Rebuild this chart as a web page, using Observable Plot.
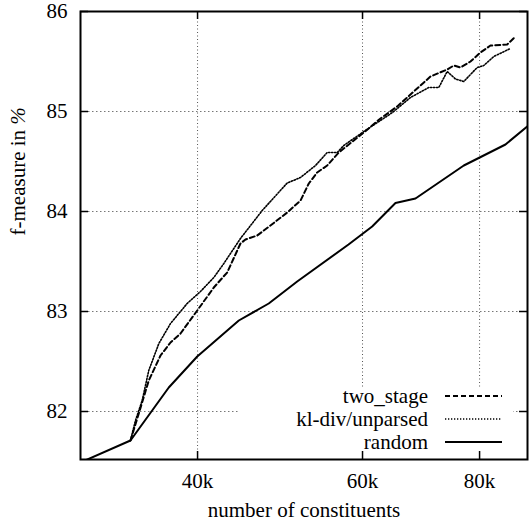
<!DOCTYPE html>
<html>
<head>
<meta charset="utf-8">
<script src="https://cdn.jsdelivr.net/npm/d3@7"></script>
<script src="https://cdn.jsdelivr.net/npm/@observablehq/plot@0.6"></script>
<style>
  html, body { margin: 0; padding: 0; background: #fff; }
  svg text { font-family: "Liberation Serif", "Times New Roman", Times, "DejaVu Serif", serif !important; }
</style>
</head>
<body>
<div id="chart"></div>
<script>
// ---- data ----
const seriesNames = ["two_stage", "kl-div/unparsed", "random"];

const twoStageX = [33920, 34620, 35480, 36520, 37430, 38360, 39970, 41630, 43020, 44450, 45000, 46320, 47850, 49860, 51520, 52580, 53670, 55010, 56600, 60190, 62710, 65340, 68060, 70910, 73880, 75090, 76330, 78230, 80180, 82170, 85610, 87160];
const twoStageY = [81.71, 81.98, 82.31, 82.56, 82.69, 82.78, 83.01, 83.24, 83.39, 83.68, 83.72, 83.76, 83.86, 83.99, 84.11, 84.28, 84.39, 84.46, 84.59, 84.79, 84.93, 85.05, 85.20, 85.35, 85.42, 85.46, 85.44, 85.50, 85.59, 85.66, 85.67, 85.74];

const klDivX = [33920, 34340, 34910, 35480, 36370, 37430, 38990, 40290, 41630, 42670, 44450, 46890, 49860, 51520, 53450, 55010, 56380, 57300, 60190, 64590, 67510, 70610, 72370, 73880, 75400, 76960, 78230, 79530, 80830, 82840, 86310];
const klDivY = [81.71, 81.91, 82.11, 82.41, 82.68, 82.88, 83.08, 83.20, 83.34, 83.48, 83.73, 84.01, 84.285, 84.34, 84.46, 84.59, 84.59, 84.66, 84.80, 84.99, 85.14, 85.24, 85.24, 85.40, 85.325, 85.30, 85.37, 85.44, 85.46, 85.55, 85.63];

const randomX = [30000, 33920, 37270, 39970, 44270, 47650, 51100, 57970, 61440, 65060, 68340, 76960, 85260, 89930];
const randomY = [81.49, 81.71, 82.24, 82.55, 82.91, 83.08, 83.30, 83.67, 83.85, 84.085, 84.13, 84.46, 84.67, 84.85];

const xDomain = [30000, 90000];
const yDomain = [81.52, 86];
const xTicks = [40000, 60000, 80000];
const xTickLabels = ["40k", "60k", "80k"];
const yTicks = [82, 83, 84, 85, 86];
const yGrid = [82, 83, 84, 85];
const xLabel = "number of constituents";
const yLabelMain = "f-measure in ";
const yLabelUnit = "%";

// ---- build tables ----
const toRows = (name, xs, ys) => xs.map((x, i) => ({series: name, x, y: ys[i]}));
const twoStage = toRows(seriesNames[0], twoStageX, twoStageY);
const klDiv = toRows(seriesNames[1], klDivX, klDivY);
const random = toRows(seriesNames[2], randomX, randomY);
const xTickRows = xTicks.map((v, i) => ({v, label: xTickLabels[i]}));

const styles = {
  "two_stage": {strokeWidth: 2, dash: "5,3"},
  "kl-div/unparsed": {strokeWidth: 1.6, dash: "1.3,1.7"},
  "random": {strokeWidth: 2, dash: null}
};

const W = 531, H = 523;

function legendBox(index, scales, values, dims) {
  const right = dims.width - dims.marginRight;
  const bottom = dims.height - dims.marginBottom;
  const g = d3.create("svg:g");
  g.append("rect")
    .attr("x", right - 288).attr("y", bottom - 72)
    .attr("width", 274).attr("height", 72)
    .attr("fill", "white");
  return g.node();
}

function legendKeys(index, scales, values, dims) {
  const right = dims.width - dims.marginRight;
  const bottom = dims.height - dims.marginBottom;
  const g = d3.create("svg:g");
  const rowY = [bottom - 63, bottom - 40, bottom - 17];
  seriesNames.forEach((name, i) => {
    const st = styles[name];
    g.append("text")
      .attr("x", right - 99).attr("y", rowY[i])
      .attr("dy", "0.32em")
      .attr("text-anchor", "end")
      .attr("fill", "black")
      .attr("font-size", 21)
      .text(name);
    const ln = g.append("line")
      .attr("x1", right - 82).attr("x2", right - 25)
      .attr("y1", rowY[i]).attr("y2", rowY[i])
      .attr("stroke", "black")
      .attr("stroke-width", st.strokeWidth);
    if (st.dash) ln.attr("stroke-dasharray", st.dash);
  });
  return g.node();
}

const tickLen = 8;
const innerW = W - 80 - 4;
const innerH = H - 11 - 64;

const lineMark = (rows) => {
  const st = styles[rows[0].series];
  return Plot.line(rows, {
    x: "x", y: "y", stroke: "black",
    strokeWidth: st.strokeWidth,
    strokeDasharray: st.dash ?? undefined,
    clip: true
  });
};

const chart = Plot.plot({
  width: W,
  height: H,
  marginLeft: 80,
  marginRight: 4,
  marginTop: 11,
  marginBottom: 64,
  style: {fontSize: "21px", background: "white", color: "black"},
  x: {type: "log", domain: xDomain, axis: null},
  y: {domain: yDomain, axis: null},
  marks: [
    Plot.ruleX(xTicks, {x: d => d, stroke: "#555", strokeWidth: 1, strokeDasharray: "1,2.5"}),
    Plot.ruleY(yGrid, {y: d => d, stroke: "#777", strokeWidth: 1, strokeDasharray: "1.5,2.5"}),
    legendBox,
    lineMark(twoStage),
    lineMark(klDiv),
    lineMark(random),
    Plot.tickX(xTicks, {x: d => d, insetTop: innerH - tickLen, stroke: "black", strokeWidth: 1.5}),
    Plot.tickX(xTicks, {x: d => d, insetBottom: innerH - tickLen, stroke: "black", strokeWidth: 1.5}),
    Plot.tickY(yTicks, {y: d => d, insetRight: innerW - tickLen, stroke: "black", strokeWidth: 1.5}),
    Plot.tickY(yTicks, {y: d => d, insetLeft: innerW - tickLen, stroke: "black", strokeWidth: 1.5}),
    Plot.frame({stroke: "black", strokeWidth: 2}),
    Plot.text(xTickRows, {x: "v", text: "label", frameAnchor: "bottom", lineAnchor: "top", dy: 14, fill: "black", fontSize: 21}),
    Plot.text(yTicks, {y: d => d, text: d => String(d), frameAnchor: "left", textAnchor: "end", dx: -13, fill: "black", fontSize: 21}),
    Plot.text([xLabel], {text: d => d, frameAnchor: "bottom", lineAnchor: "bottom", dy: 57, fill: "black", fontSize: 21}),
    Plot.text([yLabelMain + yLabelUnit], {text: d => d, frameAnchor: "left", rotate: -90, lineAnchor: "middle", dx: -62, fill: "black", fontSize: 21}),
    legendKeys
  ]
});

// italic unit in the y-axis title, kept as real text
d3.select(chart).selectAll("text")
  .filter(function() { return this.textContent === yLabelMain + yLabelUnit; })
  .each(function() {
    const t = d3.select(this);
    t.text(yLabelMain);
    t.append("tspan").attr("font-style", "italic").text(yLabelUnit);
  });

document.getElementById("chart").appendChild(chart);
</script>
</body>
</html>
